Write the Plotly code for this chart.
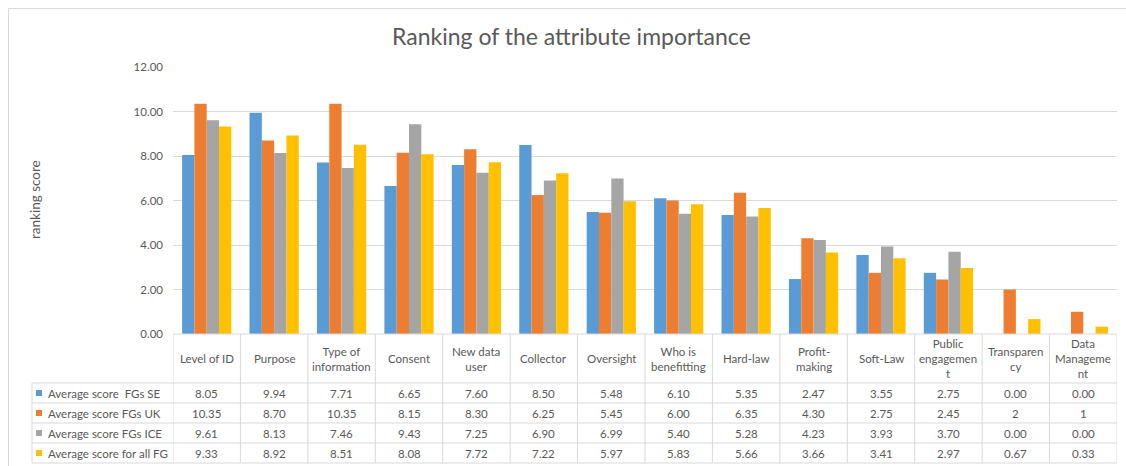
import plotly.graph_objects as go

categories = ["Level of ID", "Purpose", "Type of information", "Consent", "New data user",
              "Collector", "Oversight", "Who is benefitting", "Hard-law", "Profit-making",
              "Soft-Law", "Public engagement", "Transparency", "Data Management"]
header_labels = ["Level of ID", "Purpose", "Type of<br>information", "Consent", "New data<br>user",
                 "Collector", "Oversight", "Who is<br>benefitting", "Hard-law", "Profit-<br>making",
                 "Soft-Law", "Public<br>engagemen<br>t", "Transparen<br>cy", "Data<br>Manageme<br>nt"]

series_names = ["Average score  FGs SE", "Average score FGs UK",
                "Average score FGs ICE", "Average score for all FG"]
se = [8.05, 9.94, 7.71, 6.65, 7.60, 8.50, 5.48, 6.10, 5.35, 2.47, 3.55, 2.75, 0.00, 0.00]
uk = [10.35, 8.70, 10.35, 8.15, 8.30, 6.25, 5.45, 6.00, 6.35, 4.30, 2.75, 2.45, 2, 1]
ice = [9.61, 8.13, 7.46, 9.43, 7.25, 6.90, 6.99, 5.40, 5.28, 4.23, 3.93, 3.70, 0.00, 0.00]
all_fg = [9.33, 8.92, 8.51, 8.08, 7.72, 7.22, 5.97, 5.83, 5.66, 3.66, 3.41, 2.97, 0.67, 0.33]
series_values = [se, uk, ice, all_fg]
colors = ["#5B9BD5", "#ED7D31", "#A5A5A5", "#FFC000"]

y_ticks = [0, 2, 4, 6, 8, 10, 12]

# page body margin is removed by post_script, so figure origin = screen (0, 0)
SCREEN_W, SCREEN_H = 1126, 466
W, H = SCREEN_W, SCREEN_H
PLOT_LEFT, PLOT_RIGHT, PLOT_TOP, PLOT_BOTTOM = 173, 1117, 67, 334  # screen px
L = PLOT_LEFT
R = SCREEN_W - PLOT_RIGHT
T = PLOT_TOP
B = SCREEN_H - PLOT_BOTTOM
PW = PLOT_RIGHT - PLOT_LEFT
PH = PLOT_BOTTOM - PLOT_TOP
FONT = "Lato"
TXT = "#595959"
LINE = "#d9d9d9"
FS = 11.5


def px_x(px):
    return (px - PLOT_LEFT) / PW


def px_y(py):
    return (PLOT_BOTTOM - py) / PH


def fmt(v):
    return f"{v:.2f}" if isinstance(v, float) else str(v)


fig = go.Figure()
for name, vals, col in zip(series_names, series_values, colors):
    fig.add_trace(go.Bar(x=categories, y=vals, name=name, marker=dict(color=col, line=dict(width=0)),
                         showlegend=False, hoverinfo="x+y+name"))

shapes = []
annotations = []

# outer chart border (left and top)
shapes.append(dict(type="line", xref="paper", yref="paper", x0=px_x(8.5), x1=px_x(1126), y0=px_y(8.5), y1=px_y(8.5),
                   line=dict(color=LINE, width=1)))
shapes.append(dict(type="line", xref="paper", yref="paper", x0=px_x(8.5), x1=px_x(8.5), y0=px_y(8.5), y1=px_y(466),
                   line=dict(color=LINE, width=1)))

# table geometry
header_top, header_bot = 334, 383
row_h = 20
n_rows = len(series_names)
table_bot = header_bot + n_rows * row_h
legend_left = 32

# horizontal lines
shapes.append(dict(type="line", xref="x", yref="paper", x0=-0.5, x1=len(categories) - 0.5,
                   y0=px_y(header_top), y1=px_y(header_top), line=dict(color=LINE, width=1)))
for i in range(n_rows + 1):
    yy = header_bot + i * row_h
    shapes.append(dict(type="line", xref="paper", yref="paper", x0=px_x(legend_left), x1=1,
                       y0=px_y(yy), y1=px_y(yy), line=dict(color=LINE, width=1)))
# vertical lines
shapes.append(dict(type="line", xref="paper", yref="paper", x0=px_x(legend_left), x1=px_x(legend_left),
                   y0=px_y(header_bot), y1=px_y(table_bot), line=dict(color=LINE, width=1)))
for k in range(len(categories) + 1):
    shapes.append(dict(type="line", xref="x", yref="paper", x0=k - 0.5, x1=k - 0.5,
                       y0=px_y(header_top), y1=px_y(table_bot), line=dict(color=LINE, width=1)))

# header labels
for cat, lab in zip(categories, header_labels):
    annotations.append(dict(x=cat, xref="x", y=px_y((header_top + header_bot) / 2), yref="paper",
                            text=lab, showarrow=False, xanchor="center", yanchor="middle",
                            font=dict(family=FONT, size=FS, color=TXT)))

# rows
for i, (name, vals, col) in enumerate(zip(series_names, series_values, colors)):
    cy = header_bot + i * row_h + row_h / 2
    shapes.append(dict(type="rect", xref="paper", yref="paper", x0=px_x(36), x1=px_x(42),
                       y0=px_y(cy - 3), y1=px_y(cy + 3), fillcolor=col, line=dict(width=0)))
    annotations.append(dict(x=px_x(46), xref="paper", y=px_y(cy), yref="paper", text=name.replace("  ", "&nbsp; "),
                            showarrow=False, xanchor="left", yanchor="middle",
                            font=dict(family=FONT, size=FS, color=TXT)))
    for cat, v in zip(categories, vals):
        annotations.append(dict(x=cat, xref="x", y=px_y(cy), yref="paper", text=fmt(v),
                                showarrow=False, xanchor="center", yanchor="middle",
                                font=dict(family=FONT, size=FS, color=TXT)))

# title
annotations.append(dict(x=px_x(571), xref="paper", y=px_y(36), yref="paper",
                        text="Ranking of the attribute importance", showarrow=False,
                        xanchor="center", yanchor="middle",
                        font=dict(family=FONT, size=23, color=TXT)))
# y axis title
annotations.append(dict(x=px_x(35), xref="paper", y=px_y(200), yref="paper", text="ranking score",
                        textangle=-90, showarrow=False, xanchor="center", yanchor="middle",
                        font=dict(family=FONT, size=13.5, color=TXT)))

fig.update_layout(
    width=W, height=H,
    margin=dict(l=L, r=R, t=T, b=B, pad=0),
    paper_bgcolor="white", plot_bgcolor="white",
    barmode="group", bargap=0.27, bargroupgap=0,
    font=dict(family=FONT, size=FS, color=TXT),
    shapes=shapes, annotations=annotations,
    xaxis=dict(range=[-0.5, len(categories) - 0.5], showticklabels=False, showgrid=False,
               zeroline=False, showline=False, fixedrange=True),
    yaxis=dict(range=[0, 12], tickvals=y_ticks, tickformat=".2f", showgrid=True, gridcolor=LINE,
               gridwidth=1, zeroline=False, showline=False, ticks="", ticklabelstandoff=9,
               tickfont=dict(family=FONT, size=FS, color=TXT), fixedrange=True),
)

fig.write_html("out.html", config={"displayModeBar": False},
               post_script="document.body.style.margin='0';document.body.style.overflow='hidden';")
